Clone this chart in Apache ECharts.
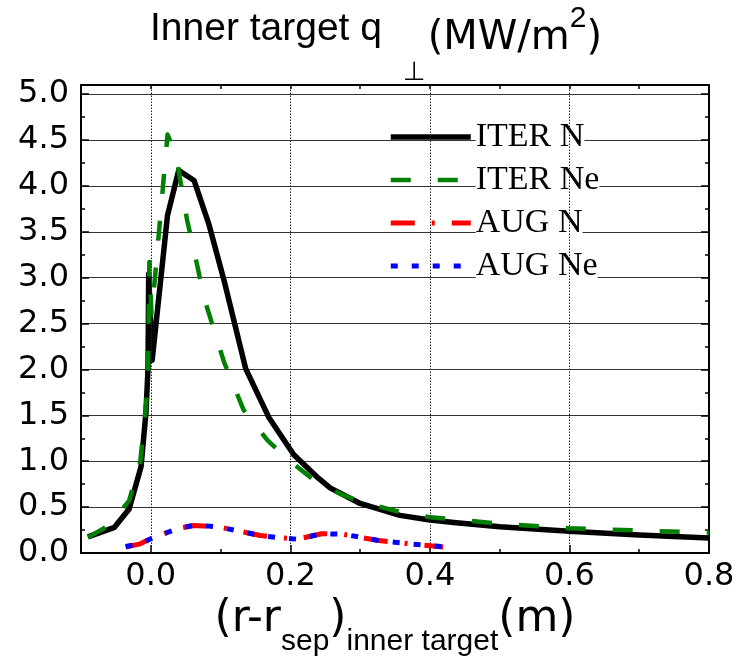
<!DOCTYPE html>
<html>
<head>
<meta charset="utf-8">
<script src="https://cdn.jsdelivr.net/npm/echarts@6/dist/echarts.min.js"></script>
<style>
  html, body { margin: 0; padding: 0; background: #fff; }
  #chart { width: 740px; height: 656px; }
</style>
</head>
<body>
<div id="chart"></div>
<script>
// Distance from the separatrix along the inner target (m) and perpendicular heat flux (MW/m^2)
const iterNX = [-0.09, -0.052, -0.031, -0.014, -0.007, -0.004, -0.003, 0.002, 0.024, 0.040, 0.062, 0.083, 0.105, 0.136, 0.169, 0.205, 0.238, 0.257, 0.30, 0.357, 0.40, 0.438, 0.5, 0.6, 0.7, 0.8];
const iterNY = [0.175, 0.28, 0.48, 0.94, 1.52, 2.0, 3.04, 2.10, 3.68, 4.17, 4.06, 3.59, 2.97, 2.01, 1.48, 1.07, 0.83, 0.71, 0.54, 0.41, 0.36, 0.33, 0.285, 0.237, 0.195, 0.164];

const iterNeX = [-0.09, -0.06, -0.031, -0.015, -0.007, -0.004, -0.002, 0.001, 0.006, 0.024, 0.036, 0.052, 0.067, 0.076, 0.105, 0.133, 0.167, 0.195, 0.238, 0.27, 0.30, 0.35, 0.40, 0.5, 0.6, 0.7, 0.8];
const iterNeY = [0.17, 0.30, 0.57, 1.0, 1.6, 1.9, 3.17, 2.6, 3.0, 4.56, 4.34, 3.63, 3.12, 2.79, 2.08, 1.56, 1.23, 1.03, 0.77, 0.65, 0.56, 0.46, 0.39, 0.32, 0.27, 0.245, 0.222];

const augNX = [-0.036, -0.015, 0.0, 0.019, 0.04, 0.062, 0.076, 0.1, 0.119, 0.157, 0.19, 0.21, 0.245, 0.276, 0.324, 0.371, 0.419];
const augNY = [0.065, 0.10, 0.157, 0.21, 0.27, 0.30, 0.295, 0.28, 0.25, 0.19, 0.165, 0.15, 0.21, 0.204, 0.139, 0.10, 0.065];

const augNeX = [-0.036, -0.015, 0.0, 0.019, 0.04, 0.062, 0.076, 0.1, 0.119, 0.157, 0.19, 0.21, 0.245, 0.276, 0.324, 0.371, 0.419];
const augNeY = [0.07, 0.10, 0.155, 0.21, 0.27, 0.30, 0.298, 0.28, 0.25, 0.19, 0.163, 0.15, 0.21, 0.205, 0.14, 0.10, 0.068];

const seriesNames = ['ITER N', 'ITER Ne', 'AUG N', 'AUG Ne'];

// Axis ticks
const xMajorTicks = [0.0, 0.2, 0.4, 0.6, 0.8];
const xGridLines = [0.0, 0.2, 0.4, 0.6];
const yTickStep = 0.5;

const pairs = (xs, ys) => xs.map((x, i) => [x, ys[i]]);

const SANS = '"DejaVu Sans", sans-serif';
const ARIAL = '"Liberation Sans", Arial, sans-serif';
const SERIF = '"Liberation Serif", "Times New Roman", serif';

const styles = [
  { color: '#000000', width: 5.5, type: 'solid' },
  { color: '#008000', width: 4.5, type: [20, 27] },
  { color: '#ff0000', width: 5, type: [24, 17, 3, 17] },
  { color: '#0000ff', width: 5, type: [7, 14] }
];
const dataSets = [pairs(iterNX, iterNY), pairs(iterNeX, iterNeY), pairs(augNX, augNY), pairs(augNeX, augNeY)];

const series = seriesNames.map((name, i) => ({
  name,
  type: 'line',
  data: dataSets[i],
  symbol: 'none',
  smooth: false,
  z: 3 + i,
  lineStyle: { color: styles[i].color, width: styles[i].width, type: styles[i].type, cap: 'butt', join: 'round' },
  itemStyle: { color: styles[i].color }
}));

// Dotted vertical grid lines at the labelled x positions
series[0].markLine = {
  silent: true,
  symbol: 'none',
  label: { show: false },
  lineStyle: { color: '#222', width: 1, type: [1.5, 1.5] },
  data: xGridLines.map(v => ({ xAxis: v }))
};

const chart = echarts.init(document.getElementById('chart'), null, { renderer: 'canvas' });

const axisLineStyle = { show: true, onZero: false, lineStyle: { color: '#000', width: 2 } };
const tickLine = { color: '#000', width: 1.5 };

// Rich-text fragments are top-aligned; the top padding drops a fragment to sub/superscript height.
const frag = (family, size, padding) => ({
  fontFamily: family, fontSize: size, fontWeight: 'normal', color: '#000',
  verticalAlign: 'top', padding
});

chart.setOption({
  animation: false,
  backgroundColor: '#fff',
  title: {
    left: 150,
    top: 0,
    padding: 0,
    text: '{a|Inner target q}{s|⊥}{b|(MW/m}{p|2}{b|)}',
    textStyle: {
      fontWeight: 'normal',
      rich: {
        a: frag(ARIAL, 39, [10, 0, 0, 0]),
        s: frag(SANS, 26, [60, 2, 0, 21]),
        b: frag(SANS, 40, [19, 0, 0, 0]),
        p: frag(ARIAL, 30, [4, 0, 0, 0])
      }
    }
  },
  legend: {
    orient: 'vertical',
    left: 388,
    top: 120,
    padding: 0,
    itemGap: 9,
    itemWidth: 80,
    itemHeight: 14,
    textStyle: { fontFamily: SERIF, fontSize: 34, lineHeight: 34, color: '#000', backgroundColor: '#fff' },
    data: seriesNames.map((name, i) => ({
      name,
      itemStyle: { color: 'rgba(0,0,0,0)', borderColor: 'rgba(0,0,0,0)', borderWidth: 0 },
      lineStyle: { width: styles[i].width, type: styles[i].type, color: styles[i].color }
    }))
  },
  grid: { left: 81, right: 31, top: 85, bottom: 103, containLabel: false, outerBoundsMode: 'none' },
  xAxis: [
    {
      type: 'value',
      min: -0.1,
      max: 0.8,
      interval: 0.1,
      position: 'bottom',
      axisLine: axisLineStyle,
      axisTick: { show: true, inside: true, length: 4, lineStyle: tickLine },
      axisLabel: {
        fontFamily: SANS,
        fontSize: 32,
        color: '#000',
        margin: 8,
        formatter: v => {
          const k = Math.round(v * 10);
          return (k >= 0 && k % 2 === 0) ? v.toFixed(1) : '';
        }
      },
      splitLine: { show: false },
      name: '{b|(r-r}{s|sep}{b|)}{s|inner target}{b|(m)}',
      nameLocation: 'middle',
      nameGap: 38,
      nameTextStyle: {
        rich: {
          b: frag(SANS, 44, [0, 0, 0, 0]),
          s: frag(ARIAL, 30, [29, 0, 0, 0])
        }
      }
    },
    {
      type: 'value',
      min: -0.1,
      max: 0.8,
      position: 'bottom',
      axisLine: { show: false, onZero: false },
      axisTick: { show: true, inside: true, length: 8, customValues: xMajorTicks, lineStyle: tickLine },
      axisLabel: { show: false },
      splitLine: { show: false }
    },
    {
      type: 'value',
      min: -0.1,
      max: 0.8,
      interval: 0.1,
      position: 'top',
      axisLine: axisLineStyle,
      axisTick: { show: true, inside: true, length: 4, lineStyle: tickLine },
      axisLabel: { show: false },
      splitLine: { show: false }
    }
  ],
  yAxis: [
    {
      type: 'value',
      min: 0,
      max: 5.1,
      interval: yTickStep,
      position: 'left',
      axisLine: axisLineStyle,
      axisTick: { show: true, inside: true, length: 8, lineStyle: tickLine },
      minorTick: { show: true, splitNumber: 2, length: 4, lineStyle: tickLine },
      axisLabel: {
        fontFamily: SANS,
        fontSize: 32,
        color: '#000',
        margin: 12,
        formatter: v => (v > 5.05 ? '' : v.toFixed(1))
      },
      splitLine: { show: true, lineStyle: { color: '#333', width: 1.2, type: 'solid' } }
    },
    {
      type: 'value',
      min: 0,
      max: 5.1,
      interval: yTickStep,
      position: 'right',
      axisLine: axisLineStyle,
      axisTick: { show: true, inside: true, length: 8, lineStyle: tickLine },
      minorTick: { show: true, splitNumber: 2, length: 4, lineStyle: tickLine },
      axisLabel: { show: false },
      splitLine: { show: false }
    }
  ],
  series
});
</script>
</body>
</html>
